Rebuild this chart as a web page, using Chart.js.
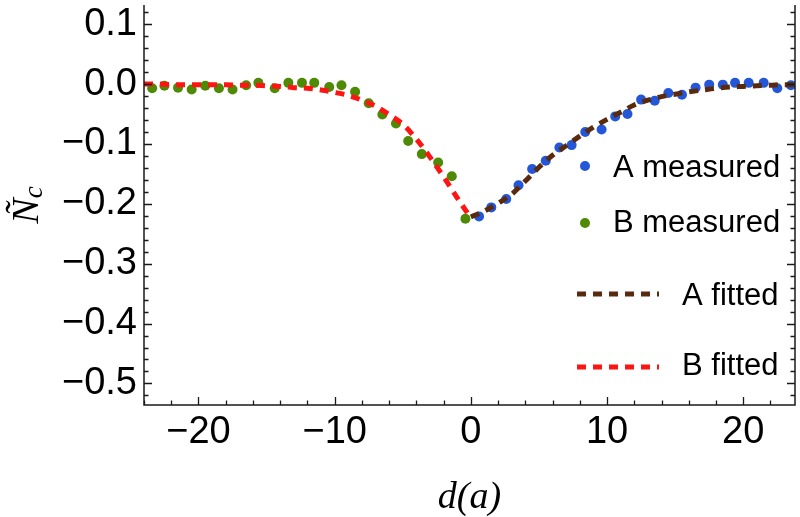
<!DOCTYPE html>
<html>
<head>
<meta charset="utf-8">
<script src="https://cdn.jsdelivr.net/npm/chart.js@4.4.1/dist/chart.umd.min.js"></script>
<style>
  html, body { margin: 0; padding: 0; background: #fff; }
  #wrap { width: 800px; height: 517px; }
</style>
</head>
<body>
<div id="wrap"><canvas id="chart" width="800" height="517"></canvas></div>
<script>
// ---- values ----
const aMeasuredX = [0.6, 1.5, 2.6, 3.5, 4.5, 5.5, 6.5, 7.4, 8.4, 9.6, 10.6, 11.5, 12.5, 13.5, 14.5, 15.5, 16.5, 17.5, 18.5, 19.4, 20.4, 21.5, 22.5, 23.5];
const aMeasuredY = [-0.221, -0.206, -0.192, -0.169, -0.142, -0.128, -0.106, -0.102, -0.080, -0.076, -0.054, -0.050, -0.026, -0.028, -0.015, -0.018, -0.006, -0.001, -0.001, 0.002, 0.002, 0.002, -0.007, -0.002];

const bMeasuredX = [-23.4, -22.5, -21.5, -20.5, -19.5, -18.5, -17.5, -16.5, -15.6, -14.4, -13.4, -12.4, -11.5, -10.4, -9.5, -8.5, -7.5, -6.5, -5.5, -4.6, -3.6, -2.4, -1.4, -0.4];
const bMeasuredY = [-0.007, -0.003, -0.006, -0.009, -0.003, -0.007, -0.009, -0.002, 0.002, -0.007, 0.002, 0.002, 0.002, -0.005, -0.002, -0.013, -0.032, -0.051, -0.066, -0.095, -0.117, -0.131, -0.154, -0.225];

const aFittedX = [0, 1, 2, 3, 4, 5, 6, 7, 8, 9, 10, 11, 12, 13, 14, 15, 16, 17, 18, 19, 20, 21, 22, 23, 24];
const aFittedY = [-0.222, -0.212, -0.199, -0.184, -0.162, -0.139, -0.119, -0.103, -0.087, -0.072, -0.059, -0.047, -0.035, -0.027, -0.021, -0.017, -0.013, -0.010, -0.007, -0.005, -0.004, -0.003, -0.002, -0.001, -0.001];

const bFittedX = [-24, -23, -22, -21, -20, -19, -18, -17, -16, -15, -14, -13, -12, -11, -10, -9, -8, -7, -6, -5, -4, -3, -2, -1, 0];
const bFittedY = [0.000, 0.000, -0.001, -0.001, -0.001, -0.001, -0.001, -0.002, -0.002, -0.003, -0.004, -0.006, -0.007, -0.010, -0.014, -0.019, -0.027, -0.037, -0.051, -0.067, -0.092, -0.122, -0.155, -0.190, -0.224];

const xTicks = [-20, -10, 0, 10, 20];
const yTicks = [0.1, 0, -0.1, -0.2, -0.3, -0.4, -0.5];

const BLUE = '#2457d8';
const GREEN = '#4e8a06';
const BROWN = '#5a2a0e';
const RED = '#ff1414';

function pts(xs, ys) { return xs.map((x, i) => ({ x: x, y: ys[i] })); }
function minus(s) { return String(s).replace('-', '\u2212'); }

// ---- frame with inward ticks (Mathematica style) ----
const framePlugin = {
    id: 'frame',
    afterDatasetsDraw(chart) {
        const { ctx, chartArea: a, scales: { x, y } } = chart;
        ctx.save();
        ctx.strokeStyle = '#1a1a1a';
        ctx.lineWidth = 1.5;
        ctx.beginPath();
        ctx.moveTo(a.left, a.top);
        ctx.lineTo(a.left, a.bottom);
        ctx.lineTo(a.right, a.bottom);
        ctx.lineTo(a.right, a.top);
        ctx.stroke();

        ctx.lineWidth = 1.3;
        ctx.beginPath();
        for (let k = -12; k <= 12; k++) {
            const v = k * 2;
            if (v < x.min || v > x.max) continue;
            const len = (v % 10 === 0) ? 8 : 4.5;
            const px = Math.round(x.getPixelForValue(v)) + 0.5;
            ctx.moveTo(px, a.bottom);
            ctx.lineTo(px, a.bottom - len);
        }
        for (let k = -27; k <= 7; k++) {
            const v = k * 0.02;
            if (v < y.min || v > y.max) continue;
            const len = (k % 5 === 0) ? 8 : 4.5;
            const py = Math.round(y.getPixelForValue(v)) + 0.5;
            ctx.moveTo(a.left, py);
            ctx.lineTo(a.left + len, py);
            ctx.moveTo(a.right, py);
            ctx.lineTo(a.right - len, py);
        }
        ctx.stroke();
        ctx.restore();
    },
    afterDraw(chart) {
        const { ctx } = chart;
        const ds = chart.data.datasets;
        ctx.save();

        // y axis title: N tilde with subscript c
        ctx.translate(38, 205);
        ctx.rotate(-Math.PI / 2);
        ctx.fillStyle = '#000';
        ctx.textBaseline = 'alphabetic';
        ctx.font = 'italic 38px "Liberation Serif", "DejaVu Serif", serif';
        const wN = ctx.measureText('\u00D1').width;
        ctx.font = 'italic 27px "Liberation Serif", "DejaVu Serif", serif';
        const wc = ctx.measureText('c').width;
        const x0 = -(wN + wc) / 2;
        ctx.font = 'italic 38px "Liberation Serif", "DejaVu Serif", serif';
        ctx.fillText('\u00D1', x0, 0);
        ctx.font = 'italic 27px "Liberation Serif", "DejaVu Serif", serif';
        ctx.fillText('c', x0 + wN, 4);
        ctx.restore();

        // legend
        ctx.save();
        ctx.font = '31px "Liberation Sans", Arial, sans-serif';
        ctx.textBaseline = 'alphabetic';
        ctx.fillStyle = '#000';
        const items = [
            { i: 2, kind: 'dot', cy: 166, base: 177, tx: 613 },
            { i: 3, kind: 'dot', cy: 223, base: 232, tx: 613 },
            { i: 0, kind: 'dash', cy: 294, base: 305, tx: 682 },
            { i: 1, kind: 'dash', cy: 367, base: 375, tx: 682 }
        ];
        items.forEach(it => {
            const d = ds[it.i];
            if (it.kind === 'dot') {
                ctx.fillStyle = d.backgroundColor;
                ctx.beginPath();
                ctx.arc(585, it.cy, 5, 0, Math.PI * 2);
                ctx.fill();
            } else {
                ctx.strokeStyle = d.borderColor;
                ctx.lineWidth = d.borderWidth;
                ctx.setLineDash(d.borderDash);
                ctx.beginPath();
                ctx.moveTo(577, it.cy);
                ctx.lineTo(659, it.cy);
                ctx.stroke();
                ctx.setLineDash([]);
            }
            ctx.fillStyle = '#000';
            ctx.fillText(d.label, it.tx, it.base);
        });
        ctx.restore();
    }
};

const tickFont = { family: '"Liberation Sans", Arial, sans-serif', size: 38, lineHeight: 1 };

function fixBox(s, w, h) {
    if (w !== null) s.width = w;
    if (h !== null) s.height = h;
    s.paddingTop = 0;
    s.paddingBottom = 0;
    s.paddingLeft = 0;
    s.paddingRight = 0;
}

new Chart(document.getElementById('chart'), {
    type: 'scatter',
    data: {
        datasets: [
            {
                label: 'A fitted',
                data: pts(aFittedX, aFittedY),
                showLine: true,
                borderColor: BROWN,
                borderWidth: 5,
                borderDash: [9, 7],
                pointRadius: 0,
                cubicInterpolationMode: 'monotone',
                order: 0
            },
            {
                label: 'B fitted',
                data: pts(bFittedX, bFittedY),
                showLine: true,
                borderColor: RED,
                borderWidth: 5,
                borderDash: [9, 7],
                pointRadius: 0,
                cubicInterpolationMode: 'monotone',
                order: 0
            },
            {
                label: 'A measured',
                data: pts(aMeasuredX, aMeasuredY),
                backgroundColor: BLUE,
                borderWidth: 0,
                pointRadius: 5,
                order: 1
            },
            {
                label: 'B measured',
                data: pts(bMeasuredX, bMeasuredY),
                backgroundColor: GREEN,
                borderWidth: 0,
                pointRadius: 5,
                order: 1
            }
        ]
    },
    options: {
        responsive: false,
        animation: false,
        devicePixelRatio: 1,
        layout: { padding: { top: 0, right: 3, bottom: 0, left: 0 } },
        plugins: {
            legend: { display: false },
            tooltip: { enabled: false }
        },
        scales: {
            x: {
                type: 'linear',
                min: -24,
                max: 23.8,
                grid: { display: false, drawTicks: false },
                border: { display: false },
                afterBuildTicks: s => { s.ticks = xTicks.map(v => ({ value: v })); },
                afterFit: s => fixBox(s, null, 112),
                ticks: {
                    color: '#000',
                    font: tickFont,
                    padding: 9,
                    maxRotation: 0,
                    callback: v => minus(v)
                },
                title: {
                    display: true,
                    text: 'd(a)',
                    color: '#000',
                    padding: 0,
                    font: { family: '"Liberation Serif", "DejaVu Serif", serif', style: 'italic', size: 38, lineHeight: 1 }
                }
            },
            y: {
                type: 'linear',
                min: -0.536,
                max: 0.132,
                grid: { display: false, drawTicks: false },
                border: { display: false },
                afterBuildTicks: s => { s.ticks = yTicks.map(v => ({ value: v })); },
                afterFit: s => fixBox(s, 144, null),
                ticks: {
                    color: '#000',
                    font: tickFont,
                    padding: 7,
                    callback: v => minus(Number(v).toFixed(1))
                }
            }
        }
    },
    plugins: [framePlugin]
});
</script>
</body>
</html>
